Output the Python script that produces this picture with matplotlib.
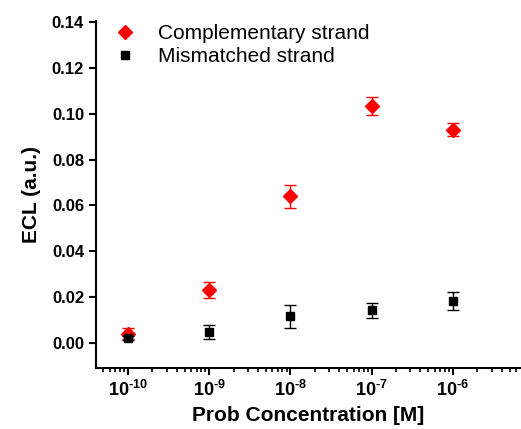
import numpy as np
import matplotlib
matplotlib.use('Agg')
import matplotlib.pyplot as plt
from matplotlib.ticker import LogLocator, FixedLocator, NullFormatter

plt.rcParams['font.family'] = ['Liberation Sans', 'DejaVu Sans']
plt.rcParams['mathtext.fontset'] = 'custom'
plt.rcParams['mathtext.rm'] = 'Liberation Sans:bold'
plt.rcParams['mathtext.bf'] = 'Liberation Sans:bold'

# data
conc = [1e-10, 1e-9, 1e-8, 1e-7, 1e-6]
comp = [0.0040, 0.0232, 0.0640, 0.1035, 0.0930]
comp_err = [0.0025, 0.0035, 0.0050, 0.0040, 0.0028]
mism = [0.0022, 0.0048, 0.0117, 0.0142, 0.0183]
mism_err = [0.0010, 0.0030, 0.0050, 0.0033, 0.0040]
xtick_labels = [r'$\mathbf{10^{\text{-}10}}$', r'$\mathbf{10^{\text{-}9}}$',
                r'$\mathbf{10^{\text{-}8}}$', r'$\mathbf{10^{\text{-}7}}$',
                r'$\mathbf{10^{\text{-}6}}$']
yticks = [0.00, 0.02, 0.04, 0.06, 0.08, 0.10, 0.12, 0.14]

fig = plt.figure(figsize=(5.21, 4.29), dpi=100)
ax = fig.add_axes([0.184, 0.142, 0.816, 0.809])

e1 = ax.errorbar(conc, comp, yerr=comp_err, fmt='D', color='red', ms=7,
                 ecolor='red', elinewidth=1, capsize=4, capthick=1, zorder=3)
e2 = ax.errorbar(conc, mism, yerr=mism_err, fmt='s', color='black', ms=6,
                 ecolor='black', elinewidth=1, capsize=4, capthick=1, zorder=4)

ax.set_xscale('log')
ax.set_xlim(10**-10.395, 10**-5.16)
ax.set_ylim(-0.011, 0.1405)

ax.xaxis.set_major_locator(FixedLocator(conc))
ax.set_xticklabels(xtick_labels)
ax.xaxis.set_minor_locator(LogLocator(base=10, subs=np.arange(2, 10), numticks=20))
ax.xaxis.set_minor_formatter(NullFormatter())
ax.set_yticks(yticks)
ax.set_yticklabels(['%.2f' % v for v in yticks])

for s in ['top', 'right']:
    ax.spines[s].set_visible(False)
for s in ['left', 'bottom']:
    ax.spines[s].set_linewidth(1.5)

ax.tick_params(axis='both', which='major', direction='out', length=5, width=1.5,
               labelsize=12)
ax.tick_params(axis='x', which='major', labelsize=13)
ax.tick_params(axis='x', which='minor', direction='out', length=3, width=1.2)
for lab in ax.get_yticklabels():
    lab.set_fontweight('bold')

ax.set_xlabel('Prob Concentration [M]', fontsize=15, fontweight='bold', labelpad=4)
ax.set_ylabel('ECL (a.u.)', fontsize=15, fontweight='bold', labelpad=8)

ax.legend([e1.lines[0], e2.lines[0]], ['Complementary strand', 'Mismatched strand'],
          loc='upper left', bbox_to_anchor=(-0.005, 1.045), frameon=False, fontsize=15,
          handlelength=1.2, handletextpad=1.0, labelspacing=0.2, numpoints=1)

fig.savefig('out.png', dpi=100)
